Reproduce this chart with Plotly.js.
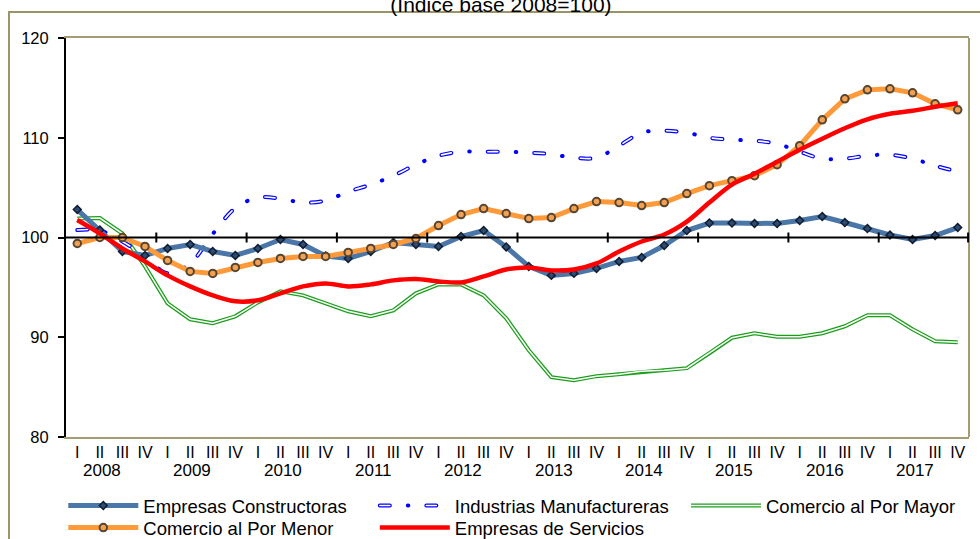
<!DOCTYPE html>
<html>
<head>
<meta charset="utf-8">
<script src="https://cdn.plot.ly/plotly-3.0.1.min.js"></script>
<style>
  html, body { margin: 0; padding: 0; background: #fff; }
  #chart { width: 980px; height: 539px; }
  .tracemanufblue .js-line, .tracemanufwhite .js-line { stroke-linecap: round; }
</style>
</head>
<body>
<div id="chart"></div>
<script>
// ---- data ----
const years = ['2008','2009','2010','2011','2012','2013','2014','2015','2016','2017'];
const quarterLabels = ['I','II','III','IV'];

const constructoras = [102.8,100.75,98.6,98.2,98.9,99.3,98.6,98.2,98.9,99.8,
  99.3,98.15,97.9,98.6,99.5,99.3,99.1,100.1,100.7,99.05,
  97.1,96.2,96.4,96.9,97.6,98.0,99.2,100.7,101.45,101.45,
  101.4,101.4,101.7,102.1,101.5,100.9,100.25,99.8,100.2,101.0];
const manufactureras = [100.75,100.7,99.6,98.1,96.4,97.4,100.35,102.95,104.0,103.9,
  103.5,103.7,104.6,105.3,106.2,107.3,108.2,108.6,108.6,108.6,
  108.5,108.35,108.0,108.0,109.2,110.5,110.7,110.5,110.0,109.8,
  109.7,109.4,108.6,107.9,107.9,108.2,108.3,107.9,107.2,106.6];
const mayor = [101.9,101.95,100.4,97.1,93.4,91.8,91.4,92.1,93.5,94.6,
  94.2,93.4,92.6,92.1,92.7,94.4,95.3,95.3,94.2,91.9,
  88.7,86.0,85.7,86.1,86.3,86.6,86.7,86.9,88.4,89.95,
  90.4,90.05,90.05,90.4,91.1,92.2,92.2,90.8,89.6,89.5];
const menor = [99.4,100.0,100.0,99.1,97.7,96.6,96.4,97.0,97.5,97.9,
  98.1,98.1,98.5,98.9,99.3,99.9,101.2,102.3,102.9,102.4,
  101.9,102.0,102.9,103.6,103.5,103.2,103.5,104.4,105.2,105.7,
  106.2,107.3,109.2,111.8,113.9,114.8,114.9,114.5,113.4,112.8];
const servicios = [101.75,100.4,98.9,97.6,96.2,95.1,94.2,93.6,93.7,94.4,
  95.1,95.4,95.1,95.3,95.7,95.85,95.6,95.5,96.1,96.8,
  97.0,96.7,96.8,97.4,98.6,99.6,100.3,101.6,103.5,105.3,
  106.4,107.6,108.8,109.9,110.95,111.85,112.4,112.7,113.1,113.45];

// ---- derived category positions ----
const xIdx = [];
const tickText = [];
years.forEach((y, yi) => quarterLabels.forEach((q, qi) => {
  xIdx.push(yi * 4 + qi);
  tickText.push(q);
}));

const FONT = 'Liberation Sans, Arial, sans-serif';
const TAN = '#a39d74';

const traces = [
  { x: xIdx, y: mayor, name: 'Comercio al Por Mayor', mode: 'lines',
    line: { color: '#1c9e1c', width: 4 }, legend: 'legend3', hoverinfo: 'skip' },
  { x: xIdx, y: mayor, name: 'mayor-inner', mode: 'lines', showlegend: false,
    line: { color: '#ffffff', width: 1.5 }, hoverinfo: 'skip' },
  { x: xIdx, y: manufactureras, name: 'Industrias Manufactureras', mode: 'lines', uid: 'manufblue',
    line: { color: '#0000ff', width: 4, shape: 'spline', dash: '10px,18px,0.5px,18px' },
    legend: 'legend2', hoverinfo: 'skip' },
  { x: xIdx, y: manufactureras, name: 'manuf-inner', mode: 'lines', uid: 'manufwhite', showlegend: false,
    line: { color: '#ffffff', width: 1.6, shape: 'spline', dash: '10px,36.5px' }, hoverinfo: 'skip' },
  { x: xIdx, y: constructoras, name: 'Empresas Constructoras', mode: 'lines+markers',
    line: { color: '#4a76a8', width: 5 },
    marker: { symbol: 'diamond', size: 6, color: '#2c4c74', line: { color: '#111d30', width: 1.5 } },
    legend: 'legend', hoverinfo: 'skip' },
  { x: xIdx, y: menor, name: 'Comercio al Por Menor', mode: 'lines+markers',
    line: { color: '#ff9a3a', width: 5 },
    marker: { symbol: 'circle', size: 7.5, color: '#f2a152', line: { color: '#5a4630', width: 2 } },
    legend: 'legend4', hoverinfo: 'skip' },
  { x: xIdx, y: servicios, name: 'Empresas de Servicios', mode: 'lines',
    line: { color: '#ff0000', width: 4.5, shape: 'spline' },
    legend: 'legend5', hoverinfo: 'skip' }
];

const shapes = [
  { type: 'line', xref: 'paper', yref: 'y', x0: 0, x1: 1, y0: 100, y1: 100,
    line: { color: '#000', width: 2 }, layer: 'above' },
  { type: 'line', xref: 'paper', yref: 'paper', x0: 1, x1: 1, y0: 0, y1: 1,
    line: { color: TAN, width: 2 } },
  { type: 'rect', xref: 'paper', yref: 'paper', x0: -0.0631, x1: 1.3, y0: -1, y1: 1.0652,
    line: { color: '#9a9468', width: 2 } }
];
years.forEach((y, yi) => {
  if (yi === 0) return;
  shapes.push({ type: 'line', xref: 'x', yref: 'y', x0: yi * 4 - 0.5, x1: yi * 4 - 0.5,
    y0: 99.5, y1: 100.5, line: { color: '#000', width: 2 }, layer: 'above' });
});
shapes.push({ type: 'line', xref: 'paper', yref: 'y', x0: 0.999, x1: 0.999,
  y0: 99.5, y1: 100.5, line: { color: '#000', width: 2 }, layer: 'above' });

const annotations = years.map((y, yi) => ({
  xref: 'x', yref: 'paper', x: yi * 4 + 1.1, y: -0.083, text: y, showarrow: false,
  xanchor: 'center', yanchor: 'middle', font: { family: FONT, size: 17, color: '#000' }
}));

const legendBase = {
  orientation: 'v', xanchor: 'left', yanchor: 'top',
  itemwidth: 70, bgcolor: 'rgba(0,0,0,0)', tracegroupgap: 0,
  font: { family: FONT, size: 18.5, color: '#000' }
};
const colX = [-0.003, 0.342, 0.6866];
const rowY = [-0.1253, -0.1805];

const layout = {
  width: 980, height: 539,
  margin: { l: 66, r: 11, t: 38, b: 102, autoexpand: false },
  paper_bgcolor: '#fff', plot_bgcolor: '#fff',
  font: { family: FONT, color: '#000' },
  title: { text: '(Índice base 2008=100)', xref: 'paper', x: 0.4817, xanchor: 'center',
    yref: 'container', y: 0.992, yanchor: 'middle', font: { family: FONT, size: 21, color: '#000' } },
  xaxis: {
    range: [-0.5, 39.5], tickmode: 'array', tickvals: xIdx, ticktext: tickText,
    ticks: '', showgrid: false, zeroline: false,
    showline: true, linecolor: TAN, linewidth: 2, mirror: true,
    tickfont: { family: FONT, size: 16, color: '#000' }, tickangle: 0
  },
  yaxis: {
    range: [80, 120], tickmode: 'linear', tick0: 80, dtick: 10,
    ticks: 'outside', ticklen: 6, tickwidth: 2, tickcolor: '#000',
    showline: true, linecolor: '#000', linewidth: 2,
    showgrid: false, zeroline: false, ticklabelstandoff: 6,
    tickfont: { family: FONT, size: 16.5, color: '#000' }
  },
  legend:  Object.assign({}, legendBase, { x: colX[0], y: rowY[0] }),
  legend2: Object.assign({}, legendBase, { x: colX[1], y: rowY[0] }),
  legend3: Object.assign({}, legendBase, { x: colX[2], y: rowY[0] }),
  legend4: Object.assign({}, legendBase, { x: colX[0], y: rowY[1] }),
  legend5: Object.assign({}, legendBase, { x: colX[1], y: rowY[1] }),
  shapes: shapes,
  annotations: annotations,
  showlegend: true
};

Plotly.newPlot('chart', traces, layout, { displayModeBar: false, staticPlot: true }).then(function (gd) {
  // give the legend samples the double-line look of the reference
  try {
    const addInner = function (path, width, dash) {
      const clone = path.cloneNode(true);
      clone.style.stroke = '#ffffff';
      clone.style.strokeWidth = width + 'px';
      clone.style.strokeDasharray = dash || '';
      clone.style.strokeLinecap = path.style.strokeLinecap || '';
      path.parentNode.appendChild(clone);
    };
    const g3 = gd.querySelector('g.legend3 .legendlines path');
    if (g3) addInner(g3, 1.5, '');
    const g2 = gd.querySelector('g.legend2 .legendlines path');
    if (g2) {
      g2.style.strokeLinecap = 'round';
      addInner(g2, 1.6, '10px,36.5px');
    }
  } catch (e) {}
});
</script>
</body>
</html>
